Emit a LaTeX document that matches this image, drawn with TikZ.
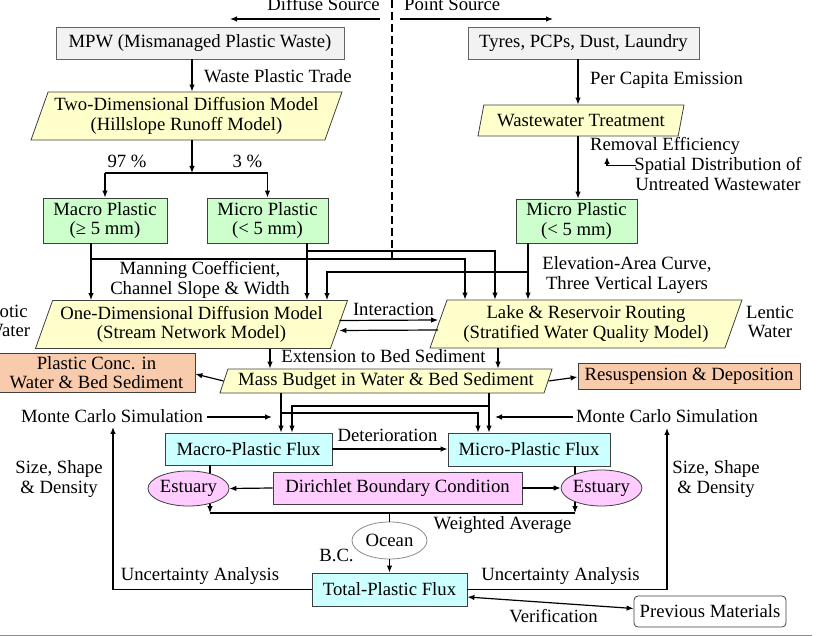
\documentclass[tikz,border=0pt]{standalone}
\usepackage{fontspec}
\setmainfont{Liberation Serif}
\usetikzlibrary{arrows.meta,shapes.geometric,calc}
\definecolor{srcfill}{HTML}{F2F2F2}
\definecolor{edgegray}{HTML}{3F3F3F}
\definecolor{paleyellow}{HTML}{FFFFCC}
\definecolor{palegreen}{HTML}{CCFFCC}
\definecolor{peach}{HTML}{F8CBAD}
\definecolor{palecyan}{HTML}{CCFFFF}
\definecolor{palepink}{HTML}{FFCCFF}
\definecolor{rulegray}{HTML}{8C8C8C}
\begin{document}
\begin{tikzpicture}[x=1pt,y=-1pt,
  every node/.style={font=\fontsize{18.7}{19.5}\selectfont, inner sep=0pt, align=center},
  box/.style={draw=edgegray, line width=0.8pt, rectangle},
  srcbox/.style={box, draw=edgegray!80, fill=srcfill},
  plasticbox/.style={box, fill=palegreen},
  outbox/.style={box, fill=peach},
  fluxbox/.style={box, fill=palecyan},
  bcbox/.style={box, fill=palepink},
  refbox/.style={box, fill=white, rounded corners=4pt},
  para/.style={draw=edgegray, line width=0.8pt, fill=paleyellow, trapezium,
    trapezium left angle=65, trapezium right angle=115, trapezium stretches body},
  oval/.style={draw=edgegray, line width=0.8pt, ellipse},
  arr/.style={-{Latex[length=7pt,width=5.5pt]}, line width=1.2pt},
  biarr/.style={{Latex[length=7pt,width=5.5pt]}-{Latex[length=7pt,width=5.5pt]}, line width=1.2pt},
  link/.style={line width=1.2pt},
  divider/.style={line width=1.2pt, dash pattern=on 8pt off 4pt}
]
\useasboundingbox (0,0) rectangle (820,636);

% ---- column and row guides for the connectors ----
\coordinate (xa) at (192,0);
\coordinate (xb) at (578,0);
\coordinate (xmacroL) at (91,0);
\coordinate (xmicroL) at (307,0);
\coordinate (xmicroR) at (528,0);
\coordinate (xl1) at (465,0);
\coordinate (xl2) at (495,0);
\coordinate (xo2) at (327,0);
\coordinate (xe1) at (270,0);
\coordinate (xe2) at (498,0);
\coordinate (xf1) at (281,0);
\coordinate (xf2) at (292,0);
\coordinate (xf3) at (478,0);
\coordinate (xf4) at (489,0);
\coordinate (xs1) at (210,0);
\coordinate (xs2) at (575,0);
\coordinate (r251) at (0,251);
\coordinate (r259) at (0,259);
\coordinate (r272) at (0,272);
\coordinate (r406) at (0,406);
\coordinate (r413) at (0,413);
\coordinate (r513) at (0,513);

% ---- source split ----
\node[anchor=base east] (diffuse) at (380,10.5) {Diffuse Source};
\node[anchor=base west] (point) at (404,10.5) {Point Source};
\coordinate (divtop) at (392,0);
\coordinate (divbot) at (392,263);
\draw[divider] (divtop) -- (divbot);
\coordinate (diffend) at (230,19);
\coordinate (pointend) at (553,19);
\draw[arr] (380,19) -- (diffend);
\draw[arr] (400,19) -- (pointend);

% ---- sources ----
\node[srcbox, minimum width=288pt, minimum height=32pt] (mpw) at (200,43) {MPW (Mismanaged Plastic Waste)};
\node[srcbox, minimum width=231pt, minimum height=32pt] (tyres) at (583.5,43) {Tyres, PCPs, Dust, Laundry};

\node[para, minimum width=311pt, minimum height=48pt] (twod) at (186.5,116) {Two-Dimensional Diffusion Model\\(Hillslope Runoff Model)};
\node[para, minimum width=206pt, minimum height=31pt] (ww) at (581,120.5) {Wastewater Treatment};

\node[anchor=west] (wpt) at (204,76) {Waste Plastic Trade};
\node[anchor=west] (pce) at (590,80) {Per Capita Emission};
\node[anchor=west] (rem) at (590,146) {Removal Efficiency};
\node (spatial) at (718,174) {Spatial Distribution of\\Untreated Wastewater};
\coordinate (spatialtip) at (607,157);
\draw[arr] ($(spatial.north west)+(2,8)$) -| (spatialtip);

\draw[arr] (mpw.south -| xa) -- (twod.north -| xa);
\draw[arr] (tyres.south -| xb) -- (ww.north -| xb);

% ---- plastic size classes ----
\node[plasticbox, minimum width=124pt, minimum height=45pt] (macroL) at (105,220.5) {Macro Plastic\\(≥ 5 mm)};
\node[plasticbox, minimum width=121pt, minimum height=45pt] (microL) at (267.5,220.5) {Micro Plastic\\(< 5 mm)};
\node[plasticbox, minimum width=121pt, minimum height=44pt] (microR) at (576.5,221) {Micro Plastic\\(< 5 mm)};

\coordinate (split) at (192,173);
\draw[arr] (twod.south -| split) -- (split);
\draw[link] (macroL.north |- split) -- (microL.north |- split);
\draw[arr] (macroL.north |- split) -- (macroL.north);
\draw[arr] (microL.north |- split) -- (microL.north);
\node (p97) at (127,161) {97 \%};
\node (p3) at (247.5,161) {3 \%};
\draw[arr] (ww.south -| xb) -- (microR.north -| xb);

% ---- river and lake models ----
\node[para, minimum width=312pt, minimum height=48pt] (onedim) at (191.5,324.5) {One-Dimensional Diffusion Model\\(Stream Network Model)};
\node[para, minimum width=312pt, minimum height=48pt] (lake) at (586,324) {Lake \& Reservoir Routing\\(Stratified Water Quality Model)};

\draw[arr] (macroL.south -| xmacroL) -- (onedim.north -| xmacroL);
\draw[arr] (xmacroL |- r259) -| (lake.north -| xl1);
\draw[arr] (microL.south -| xmicroL) -- (onedim.north -| xmicroL);
\draw[arr] (xmicroL |- r251) -| (lake.north -| xl2);
\draw[arr] (microR.south -| xmicroR) -- (lake.north -| xmicroR);
\draw[arr] (xmicroR |- r272) -| (onedim.north -| xo2);

\node (manning) at (200,280) {Manning Coefficient,\\Channel Slope \& Width};
\node (elev) at (627,275) {Elevation-Area Curve,\\Three Vertical Layers};
\node (lotic) at (8,321) {Lotic\\Water};
\node (lentic) at (770,322) {Lentic\\Water};

\draw[arr] ($(onedim.east)+(0,-4)$) -- ($(lake.west)+(0,-4)$);
\draw[arr] ($(lake.west)+(0,6)$) -- ($(onedim.east)+(0,6)$);
\node (inter) at (393.5,309) {Interaction};

% ---- mass budget ----
\node[para, minimum width=332pt, minimum height=24pt] (mass) at (386,381) {Mass Budget in Water \& Bed Sediment};
\node[outbox, minimum width=197pt, minimum height=39pt] (conc) at (96.5,372.5) {Plastic Conc. in\\Water \& Bed Sediment};
\node[outbox, minimum width=222pt, minimum height=26pt] (resus) at (689,376) {Resuspension \& Deposition};

\draw[arr] (onedim.south -| xe1) -- (mass.north -| xe1);
\draw[arr] (lake.south -| xe2) -- (mass.north -| xe2);
\node (ext) at (383.5,356) {Extension to Bed Sediment};
\draw[arr] (mass.west) -- ($(conc.east)+(0,1.5)$);
\draw[arr] (mass.east) -- ($(resus.west)+(0,1)$);

% ---- fluxes ----
\node[fluxbox, minimum width=167pt, minimum height=32pt] (macroF) at (248.5,449) {Macro-Plastic Flux};
\node[fluxbox, minimum width=162pt, minimum height=33pt] (microF) at (529,449.5) {Micro-Plastic Flux};

\draw[arr] (mass.south -| xf1) -- (macroF.north -| xf1);
\draw[arr] (xf1 |- r413) -| (microF.north -| xf3);
\draw[arr] (mass.south -| xf4) -- (microF.north -| xf4);
\draw[arr] (xf4 |- r406) -| (macroF.north -| xf2);

\node (mcL) at (112,416) {Monte Carlo Simulation};
\node (mcR) at (667,416) {Monte Carlo Simulation};
\coordinate (mcendL) at (272,417);
\coordinate (mcendR) at (495,417);
\draw[arr] (207,417) -- (mcendL);
\draw[arr] (573,417) -- (mcendR);

\draw[arr] (macroF.east) -- (macroF.east -| microF.west);
\node (det) at (387.5,435) {Deterioration};

% flux outlets, passing behind the estuaries
\draw[arr] (macroF.south -| xs1) -- (xs1 |- r513);
\draw[arr] (microF.south -| xs2) -- (xs2 |- r513);
\draw[link] (xs1 |- r513) -- (xs2 |- r513);

\node[bcbox, minimum width=249pt, minimum height=32pt] (dir) at (397.5,488) {Dirichlet Boundary Condition};
\node[oval, fill=palepink, minimum width=81pt, minimum height=35pt] (estL) at (188.5,488.5) {Estuary};
\node[oval, fill=palepink, minimum width=77pt, minimum height=36pt] (estR) at (601.5,488) {Estuary};
\draw[arr] (dir.west) -- (estL.east);
\draw[arr] (dir.east) -- (estR.west);

\node (sizeL) at (59,479) {Size, Shape\\\& Density};
\node (sizeR) at (716,479) {Size, Shape\\\& Density};

% ---- ocean and total flux ----
\node[oval, draw=rulegray, fill=white, minimum width=75pt, minimum height=37pt] (ocean) at (389.5,540.5) {Ocean};
\draw[link] (ocean.north |- r513) -- (ocean.north);
\node (wavg) at (502.5,525) {Weighted Average};
\node (bc) at (336.5,555) {B.C.};

\node[fluxbox, minimum width=155pt, minimum height=33pt] (total) at (389.5,589.5) {Total-Plastic Flux};
\draw[arr] (ocean.south) -- (total.north);

\coordinate (ucL) at (113,427);
\coordinate (ucR) at (667,428);
\draw[arr] (total.west) -| (ucL);
\draw[arr] (total.east) -| (ucR);
\node (uaL) at (200,576) {Uncertainty Analysis};
\node (uaR) at (560.5,576) {Uncertainty Analysis};

\node[refbox, minimum width=152pt, minimum height=31pt] (prev) at (710,611.5) {Previous Materials};
\draw[biarr] ($(total.east)+(0,7.5)$) -- ($(prev.west)+(0,-3)$);
\node (verif) at (553.5,616) {Verification};

% ---- bottom rule ----
\coordinate (ruleL) at (0,635);
\coordinate (ruleR) at (812,635);
\draw[rulegray, line width=1pt] (ruleL) -- (ruleR);
\end{tikzpicture}
\end{document}
